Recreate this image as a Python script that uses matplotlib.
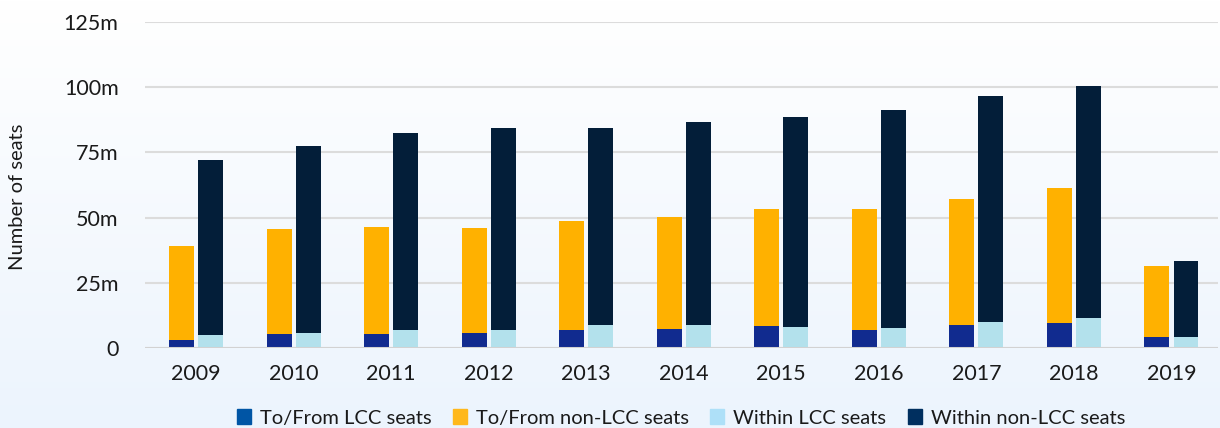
import matplotlib
matplotlib.use("Agg")
import matplotlib.pyplot as plt
import numpy as np
from matplotlib.patches import Patch

years = ["2009", "2010", "2011", "2012", "2013", "2014", "2015", "2016", "2017", "2018", "2019"]
tofrom_lcc = [3.0, 5.3, 5.3, 5.6, 6.8, 7.2, 8.3, 6.8, 8.7, 9.5, 4.1]
tofrom_non_lcc = [36.0, 40.3, 41.0, 40.4, 41.8, 43.0, 44.9, 46.4, 48.4, 51.8, 27.3]
within_lcc = [4.9, 5.6, 6.8, 6.8, 8.7, 8.7, 7.9, 7.6, 9.9, 11.4, 4.1]
within_non_lcc = [67.1, 71.8, 75.6, 77.5, 75.6, 77.9, 80.6, 83.6, 86.7, 89.2, 29.2]
ytick_vals = [0, 25, 50, 75, 100, 125]
ytick_labels = ["0", "25m", "50m", "75m", "100m", "125m"]
legend_labels = ["To/From LCC seats", "To/From non-LCC seats", "Within LCC seats", "Within non-LCC seats"]

plt.rcParams['font.family'] = ['Lato', 'DejaVu Sans']

W, H = 1220, 428
fig = plt.figure(figsize=(W / 100, H / 100), dpi=100)

# background gradient
bg = fig.add_axes([0, 0, 1, 1], zorder=-10)
grad = np.linspace(0, 1, 256).reshape(-1, 1)
top = np.array([1.0, 1.0, 1.0])
bot = np.array([0xEC, 0xF4, 0xFD]) / 255
img = top[None, None, :] * (1 - grad[:, :, None]) + bot[None, None, :] * grad[:, :, None]
bg.imshow(img, aspect='auto', extent=[0, 1, 0, 1])
bg.axis('off')

left, right = 145, 1218
y_top, y_bot = 22.3, 347.7
ax = fig.add_axes([left / W, 1 - y_bot / H, (right - left) / W, (y_bot - y_top) / H])
ax.set_facecolor('none')

x = np.arange(len(years))
bw = 0.256
off = 0.149
c_lcc = '#112B8F'
c_non = '#FFB100'
c_wlcc = '#B3E1EC'
c_wnon = '#031E39'

ax.bar(x - off, tofrom_lcc, bw, color=c_lcc, zorder=3)
ax.bar(x - off, tofrom_non_lcc, bw, bottom=tofrom_lcc, color=c_non, zorder=3)
ax.bar(x + off, within_lcc, bw, color=c_wlcc, zorder=3)
ax.bar(x + off, within_non_lcc, bw, bottom=within_lcc, color=c_wnon, zorder=3)

ax.set_xlim(-0.523, 10.477)
ax.set_ylim(0, 125)
ax.set_yticks(ytick_vals)
ax.set_yticklabels(ytick_labels)
ax.set_xticks(x)
ax.set_xticklabels(years)
for s in ax.spines.values():
    s.set_visible(False)
ax.tick_params(axis='both', length=0, labelsize=15.5, colors='#1a1a1a')
ax.tick_params(axis='y', pad=19)
ax.tick_params(axis='x', pad=12)
ax.yaxis.grid(True, color='#DCDCDC', linewidth=1.5, zorder=0)
ax.axhline(0, color='#D2D2D2', linewidth=2.2, zorder=4)
ax.set_axisbelow(True)

fig.text(17.5 / W, 1 - 197 / H, "Number of seats", rotation=90, ha='center', va='center',
         fontsize=14.5, color='#1a1a1a')

handles = [Patch(color='#0055A5'), Patch(color='#FFB81C'), Patch(color='#AEE0F8'), Patch(color='#002F5F')]
fig.legend(handles, legend_labels, loc='center', bbox_to_anchor=(681 / W, 1 - 418 / H), ncol=4,
           frameon=False, fontsize=14.5, handlelength=0.7, handleheight=0.7, handletextpad=0.45,
           columnspacing=1.05, labelcolor='#1a1a1a')

fig.savefig("out.png", dpi=100)
